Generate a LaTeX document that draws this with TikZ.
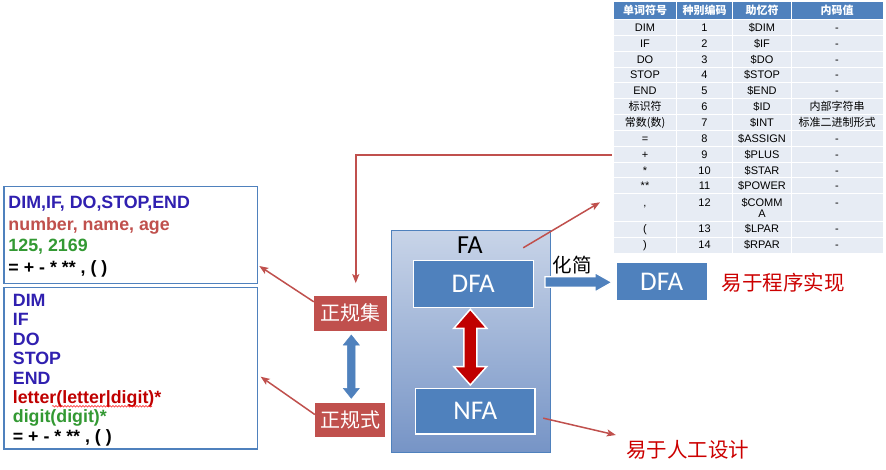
\documentclass[tikz,border=0pt]{standalone}
\usepackage{fontspec}
\setmainfont{Liberation Sans}
\newfontfamily\cjk{Noto Sans CJK SC}
\newfontfamily\calfont{Carlito}
\usetikzlibrary{arrows.meta,decorations.pathmorphing}
\definecolor{acc}{RGB}{79,129,189}
\definecolor{redbox}{RGB}{192,80,77}
\definecolor{kwblue}{RGB}{48,32,176}
\definecolor{numgreen}{RGB}{51,153,51}
\definecolor{brightred}{RGB}{204,0,0}
\definecolor{darkred}{RGB}{192,0,0}
\definecolor{cellbg}{RGB}{231,236,244}
\definecolor{fatop}{RGB}{200,212,232}
\definecolor{fabot}{RGB}{118,148,198}
\newcommand\trow[6]{%
  \node[tc] (#1a) at (645,#2) {#3};
  \node[tc] (#1b) at (704.5,#2) {#4};
  \node[tc] (#1c) at (762,#2) {#5};
  \node[tc] (#1d) at (837,#2) {#6};}
\begin{document}
\begin{tikzpicture}[x=1pt,y=-1pt,
  tc/.style={font=\fontsize{11}{13}\selectfont, text height=8pt, text depth=0pt, inner sep=0pt},
  hc/.style={font=\cjk\bfseries\fontsize{11}{13}\selectfont, text=white, text height=8pt, text depth=0pt, inner sep=0pt},
  lbox/.style={draw=acc, line width=1.5pt, inner sep=0pt, rectangle},
  lt/.style={font=\bfseries\fontsize{17.8}{20}\selectfont, anchor=base west, inner sep=0pt},
  rbox/.style={fill=redbox, text=white, font=\cjk\fontsize{20}{24}\selectfont, inner sep=0pt},
  bbox/.style={fill=acc, draw=white, line width=1.5pt, text=white, font=\calfont\fontsize{27}{30}\selectfont, inner sep=0pt},
  conn/.style={draw=redbox, line width=1.5pt, -{Stealth[length=9pt,width=7pt,inset=2pt]}},
  lbl/.style={font=\cjk\fontsize{20.5}{24}\selectfont, text=brightred, inner sep=0pt}]
\fill[white] (0,0) rectangle (886,470);
\useasboundingbox (0,0) rectangle (886,470);

% ---------- table ----------
\node[fill=cellbg, minimum width=269pt, minimum height=250.7pt, inner sep=0pt] (tbl) at (748.5,127.35) {};
\fill[acc] (614,2) rectangle (883,19.5);
\foreach \yy in {19.5,35.35,51.2,67.05,82.9,98.75,114.6,130.45,146.3,162.15,178.0,193.85,221.7,237.2}
  \draw[white, line width=1pt] (614,\yy) -- (883,\yy);
\foreach \xx in {676.7,732.3,791.7}
  \draw[white, line width=1pt] (\xx,2) -- (\xx,252.7);
\node[hc] (h1) at (645,10.75) {单词符号};
\node[hc] (h2) at (704.5,10.75) {种别编码};
\node[hc] (h3) at (762,10.75) {助忆符};
\node[hc] (h4) at (837,10.75) {内码值};
\trow{r1}{27.43}{DIM}{1}{\$DIM}{-}
\trow{r2}{43.28}{IF}{2}{\$IF}{-}
\trow{r3}{59.13}{DO}{3}{\$DO}{-}
\trow{r4}{74.98}{STOP}{4}{\$STOP}{-}
\trow{r5}{90.83}{END}{5}{\$END}{-}
\trow{r6}{106.68}{\cjk 标识符}{6}{\$ID}{\cjk 内部字符串}
\trow{r7}{122.53}{\cjk 常数(数)}{7}{\$INT}{\cjk 标准二进制形式}
\trow{r8}{138.38}{=}{8}{\$ASSIGN}{-}
\trow{r9}{154.23}{+}{9}{\$PLUS}{-}
\trow{r10}{170.08}{*}{10}{\$STAR}{-}
\trow{r11}{185.93}{**}{11}{\$POWER}{-}
\trow{r12}{202.2}{,}{12}{\$COMM}{-}
\node[tc] (r12e) at (762,213.2) {A};
\trow{r13}{228.8}{(}{13}{\$LPAR}{-}
\trow{r14}{244.4}{)}{14}{\$RPAR}{-}

% ---------- left boxes ----------
\node[lbox, minimum width=253.7pt, minimum height=96.6pt] (box1) at (130.85,235) {};
\node[lt, text=kwblue] (t11) at (8.3,209) {DIM,IF, DO,STOP,END};
\node[lt, text=redbox] (t12) at (8.3,230.5) {number, name, age};
\node[lt, text=numgreen] (t13) at (8.3,252) {125, 2169};
\node[lt, text=black] (t14) at (8.3,273.5) {= + - * ** , ( )};

\node[lbox, minimum width=253.7pt, minimum height=161.7pt] (box2) at (130.85,368.15) {};
\node[lt, text=kwblue] (t21) at (12.7,306.3) {DIM};
\node[lt, text=kwblue] (t22) at (12.7,325.8) {IF};
\node[lt, text=kwblue] (t23) at (12.7,345.2) {DO};
\node[lt, text=kwblue] (t24) at (12.7,364.6) {STOP};
\node[lt, text=kwblue] (t25) at (12.7,384) {END};
\node[lt, text=darkred] (t26) at (12.7,403.4) {letter(letter|digit)*};
\node[lt, text=numgreen] (t27) at (12.7,422.8) {digit(digit)*};
\node[lt, text=black] (t28) at (12.7,442.2) {= + - * ** , ( )};
\draw[red, line width=0.5pt, decorate, decoration={snake, amplitude=0.8pt, segment length=3pt}] (52,406.3) -- (152,406.3);

% ---------- FA block ----------
\node[draw=acc, line width=1pt, top color=fatop, bottom color=fabot, minimum width=159.4pt, minimum height=221.3pt, inner sep=0pt] (fa) at (471,341.65) {};
\node[font=\calfont\fontsize{26}{28}\selectfont, anchor=base, inner sep=0pt] (falbl) at (470,253.5) {FA};
\node[bbox, minimum width=120pt, minimum height=46.6pt] (dfa) at (473.3,284) {DFA};
\node[bbox, minimum width=119.3pt, minimum height=45.7pt] (nfa) at (475.35,411.15) {NFA};
% red double arrow
\draw[fill=darkred, draw=white, line width=1.5pt, line join=miter]
  (470.3,309.3) -- (486.8,328.3) -- (476.8,328.3) -- (476.8,366.5) -- (486.8,366.5) -- (470.3,385)
  -- (453.8,366.5) -- (463.8,366.5) -- (463.8,328.3) -- (453.8,328.3) -- cycle;

% ---------- red boxes ----------
\node[rbox, minimum width=72.7pt, minimum height=34.7pt] (zjj) at (350.35,313.35) {正规集};
\node[rbox, minimum width=70pt, minimum height=34.6pt] (zzs) at (350,420) {正规式};
% blue double arrow
\draw[fill=acc, draw=acc, line width=0.5pt]
  (351.3,335) -- (359.3,345) -- (355.15,345) -- (355.15,388.3) -- (359.3,388.3) -- (351.3,398.3)
  -- (343.3,388.3) -- (347.45,388.3) -- (347.45,345) -- (343.3,345) -- cycle;

% ---------- simplify ----------
\draw[fill=acc, draw=white, line width=1.2pt]
  (545,276.7) -- (595,276.7) -- (595,272.7) -- (612,282.3) -- (595,292) -- (595,287.3) -- (545,287.3) -- cycle;
\node[font=\cjk\fontsize{19.5}{22}\selectfont, inner sep=0pt] (hj) at (572,265) {化简};
\node[fill=acc, text=white, font=\calfont\fontsize{27}{30}\selectfont, minimum width=90pt, minimum height=36.7pt, inner sep=0pt] (dfa2) at (661.7,281.65) {DFA};
\node[lbl] (easyprog) at (783,283) {易于程序实现};
\node[lbl] (easyman) at (687.5,450) {易于人工设计};

% ---------- connectors ----------
\draw[conn] ([shift={(-2.3,27.65)}]tbl.west) -| ([shift={(5.4,-12.7)}]zjj.north);
\coordinate (b1in) at (259.3,266);
\draw[conn] ([yshift=-6pt]zjj.north west) -- (b1in);
\coordinate (b2in) at (260.7,376.7);
\draw[conn] ([yshift=-12pt]zzs.north west) -- (b2in);
\coordinate (tblin) at (600,202.3);
\draw[conn] ([shift={(-28,17.3)}]fa.north east) -- (tblin);
\draw[conn] ([shift={(7.5,7)}]nfa.east) -- ([shift={(-10,-15)}]easyman.west);
\end{tikzpicture}
\end{document}
